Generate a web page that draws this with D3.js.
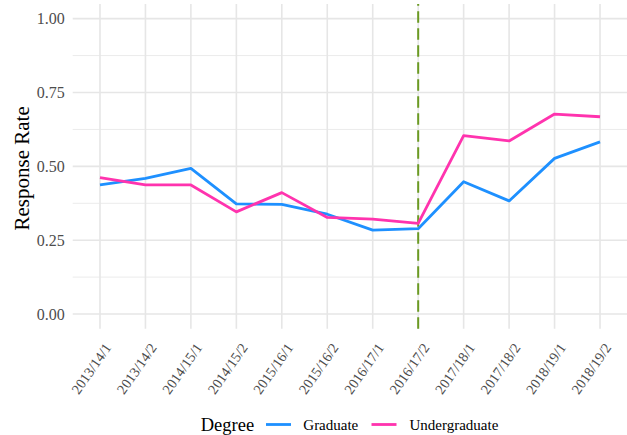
<!DOCTYPE html>
<html>
<head>
<meta charset="utf-8">
<script src="https://cdn.jsdelivr.net/npm/d3@7"></script>
<style>
  html, body { margin: 0; padding: 0; background: #ffffff; }
  svg { display: block; }
  svg text { font-family: "Liberation Serif", "Times New Roman", serif; }
</style>
</head>
<body>
<div id="chart"></div>
<script>
// ---- Data ----
const terms = ["2013/14/1","2013/14/2","2014/15/1","2014/15/2","2015/16/1","2015/16/2",
               "2016/17/1","2016/17/2","2017/18/1","2017/18/2","2018/19/1","2018/19/2"];
const graduate      = [0.437, 0.459, 0.493, 0.373, 0.371, 0.338, 0.284, 0.289, 0.448, 0.383, 0.527, 0.583];
const undergraduate = [0.462, 0.437, 0.437, 0.346, 0.411, 0.327, 0.321, 0.307, 0.604, 0.586, 0.677, 0.668];
const seriesNames = ["Graduate", "Undergraduate"];
const yTicks = [0, 0.25, 0.5, 0.75, 1.0];
const yMinorTicks = [0.125, 0.375, 0.625, 0.875];
const markerTerm = "2016/17/2";
const legendTitle = "Degree";
const yTitle = "Response Rate";

// ---- Styles ----
const W = 627, H = 435;
const colors = {"Graduate": "#1E90FF", "Undergraduate": "#FF33AE"};
const font = "Liberation Serif";

const svg = d3.select("#chart").append("svg")
  .attr("width", W).attr("height", H)
  .attr("font-family", font);

const panel = {left: 72.7, right: 627.3, top: 3.9, bottom: 328.8};

const x = d3.scalePoint().domain(terms).range([panel.left, panel.right]).padding(0.6);
const y = d3.scaleLinear().domain([-0.05, 1.05]).range([panel.bottom, panel.top]);

// Grid
const grid = svg.append("g");
grid.selectAll(".minor").data(yMinorTicks).join("line")
  .attr("x1", panel.left).attr("x2", panel.right)
  .attr("y1", d => y(d)).attr("y2", d => y(d))
  .attr("stroke", "#ebebeb").attr("stroke-width", 1);
grid.selectAll(".majorY").data(yTicks).join("line")
  .attr("x1", panel.left).attr("x2", panel.right)
  .attr("y1", d => y(d)).attr("y2", d => y(d))
  .attr("stroke", "#e6e6e6").attr("stroke-width", 1.6);
grid.selectAll(".majorX").data(terms).join("line")
  .attr("x1", d => x(d)).attr("x2", d => x(d))
  .attr("y1", panel.top).attr("y2", panel.bottom)
  .attr("stroke", "#e6e6e6").attr("stroke-width", 1.6);

// Y axis labels
const yAxis = d3.axisLeft(y).tickValues(yTicks).tickFormat(d3.format(".2f")).tickSize(0).tickPadding(8);
const gy = svg.append("g").attr("transform", `translate(${panel.left},0)`).call(yAxis)
  .attr("font-family", font).attr("font-size", 16);
gy.select(".domain").remove();
gy.selectAll("text").attr("fill", "#4d4d4d");

// X axis labels
const xAxis = d3.axisBottom(x).tickSize(0).tickPadding(0);
const gx = svg.append("g").attr("transform", `translate(0,${panel.bottom})`).call(xAxis)
  .attr("font-family", font).attr("font-size", 14.3);
gx.select(".domain").remove();
gx.selectAll("text")
  .attr("fill", "#4d4d4d")
  .attr("text-anchor", "end")
  .attr("dy", "0.72em")
  .attr("y", 0)
  .attr("transform", "translate(3,13) rotate(-55)");

// Y title
svg.append("text")
  .attr("transform", `translate(29,${(panel.top + panel.bottom) / 2 + 2}) rotate(-90)`)
  .attr("text-anchor", "middle")
  .attr("font-size", 21).attr("fill", "#000")
  .text(yTitle);

// Vertical dashed line
svg.append("line")
  .attr("x1", x(markerTerm)).attr("x2", x(markerTerm))
  .attr("y1", panel.bottom).attr("y2", panel.top)
  .attr("stroke", "#6B9A23").attr("stroke-width", 2)
  .attr("stroke-dasharray", "11.5,5.5");

// Lines
const line = d3.line().x((d, i) => x(terms[i])).y(d => y(d));
const seriesData = {"Graduate": graduate, "Undergraduate": undergraduate};
seriesNames.forEach(name => {
  svg.append("path")
    .datum(seriesData[name])
    .attr("d", line)
    .attr("fill", "none")
    .attr("stroke", colors[name])
    .attr("stroke-width", 2.8)
    .attr("stroke-linejoin", "round");
});

// Legend
const legY = 424.5;
const leg = svg.append("g");
leg.append("text").attr("x", 200.7).attr("y", legY).attr("dy", "0.35em")
  .attr("font-size", 18.5).attr("fill", "#000").text(legendTitle);
const legItems = [
  {name: "Graduate", kx: 266, tx: 303.3},
  {name: "Undergraduate", kx: 371.5, tx: 409.5}
];
legItems.forEach(it => {
  leg.append("line").attr("x1", it.kx).attr("x2", it.kx + 25)
    .attr("y1", legY).attr("y2", legY)
    .attr("stroke", colors[it.name]).attr("stroke-width", 2.8);
  leg.append("text").attr("x", it.tx).attr("y", legY).attr("dy", "0.35em")
    .attr("font-size", 15).attr("fill", "#000").text(it.name);
});
</script>
</body>
</html>
